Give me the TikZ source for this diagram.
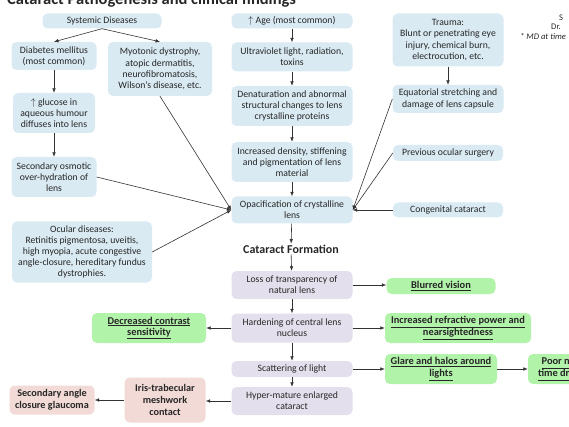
\documentclass[tikz,border=0pt]{standalone}
\usepackage{fontspec}
\setmainfont{Carlito}
\usepackage{xcolor}
\usetikzlibrary{arrows.meta}
\definecolor{boxblue}{RGB}{217,234,243}
\definecolor{boxpurple}{RGB}{228,223,236}
\definecolor{boxgreen}{RGB}{178,243,170}
\definecolor{boxpink}{RGB}{242,219,215}
\newcommand{\ulbf}[1]{\textbf{\underline{#1}}}

\begin{document}
\begin{tikzpicture}[x=1pt, y=-1pt, font=\fontsize{9.7}{11.2}\selectfont, text=black!85,
    blubox/.style={fill=boxblue, rounded corners=5pt, align=center, inner sep=1pt},
    purbox/.style={fill=boxpurple, rounded corners=5pt, align=center, inner sep=1pt},
    grnbox/.style={fill=boxgreen, rounded corners=5pt, align=center, inner sep=1pt, font=\fontsize{10.4}{11.6}\selectfont},
    pnkbox/.style={fill=boxpink, rounded corners=5pt, align=center, inner sep=1pt, font=\fontsize{10.2}{12}\selectfont\bfseries},
    arr/.style={-{Latex[length=4.5pt,width=3.6pt]}, semithick, black!80}]
    \clip (0,0) rectangle (569,427);

    % title and credits, cut by the frame
    \node[anchor=base west, font=\fontsize{16.5}{18}\selectfont\bfseries, inner sep=0pt] (title) at (7,4.5) {Cataract Pathogenesis and clinical findings};
    \node[anchor=base west, font=\fontsize{8.6}{9}\selectfont, inner sep=0pt] (credS) at (559,21) {S};
    \node[anchor=base west, font=\fontsize{8.6}{9}\selectfont, inner sep=0pt] (credDr) at (551,30) {Dr.};
    \node[anchor=base west, font=\fontsize{8.6}{9}\selectfont\itshape, inner sep=0pt] (credMD) at (520,40) {* MD at time};

    % left: systemic and ocular causes
    \node[blubox, minimum width=119, minimum height=15] (sysdis) at (102,21) {Systemic Diseases};
    \node[blubox, minimum width=85, minimum height=28] (diab) at (54,56) {Diabetes mellitus\\(most common)};
    \node[blubox, minimum width=104, minimum height=54] (myot) at (160,69) {Myotonic dystrophy,\\atopic dermatitis,\\neurofibromatosis,\\Wilson’s disease, etc.};
    \node[blubox, minimum width=82, minimum height=40] (gluc) at (54,113) {$\uparrow$ glucose in\\aqueous humour\\diffuses into lens};
    \node[blubox, minimum width=85, minimum height=40] (osmo) at (54,177) {Secondary osmotic\\over-hydration of\\lens};
    \node[blubox, minimum width=140, minimum height=61] (ocul) at (82,252) {Ocular diseases:\\Retinitis pigmentosa, uveitis,\\high myopia, acute congestive\\angle-closure, hereditary fundus\\dystrophies.};

    % centre column
    \node[blubox, minimum width=121, minimum height=15] (age) at (292,21) {$\uparrow$ Age (most common)};
    \node[blubox, minimum width=121, minimum height=29] (uv) at (292,57) {Ultraviolet light, radiation,\\toxins};
    \node[blubox, minimum width=121, minimum height=40] (denat) at (292,106) {Denaturation and abnormal\\structural changes to lens\\crystalline proteins};
    \node[blubox, minimum width=121, minimum height=40] (dens) at (292,162) {Increased density, stiffening\\and pigmentation of lens\\material};
    \node[blubox, minimum width=121, minimum height=27] (opac) at (292,210) {Opacification of crystalline\\lens};
    \node[font=\fontsize{12}{14}\selectfont\bfseries, inner sep=1pt] (catf) at (291,249) {Cataract Formation};
    \node[purbox, minimum width=121, minimum height=28] (loss) at (292,285) {Loss of transparency of\\natural lens};
    \node[purbox, minimum width=121, minimum height=29] (hard) at (292,328) {Hardening of central lens\\nucleus};
    \node[purbox, minimum width=121, minimum height=16] (scat) at (292,369) {Scattering of light};
    \node[purbox, minimum width=121, minimum height=28] (hyper) at (292,401) {Hyper-mature enlarged\\cataract};

    % right: trauma and other causes
    \node[blubox, minimum width=111, minimum height=53] (trauma) at (448,40) {Trauma:\\Blunt or penetrating eye\\injury, chemical burn,\\electrocution, etc.};
    \node[blubox, minimum width=111, minimum height=28] (equat) at (448,99) {Equatorial stretching and\\damage of lens capsule};
    \node[blubox, minimum width=110, minimum height=16] (prevsurg) at (448,153) {Previous ocular surgery};
    \node[blubox, minimum width=110, minimum height=15] (congen) at (448,210) {Congenital cataract};

    % clinical findings
    \node[grnbox, minimum width=109, minimum height=16] (blur) at (441,286) {\ulbf{Blurred vision}};
    \node[grnbox, minimum width=146, minimum height=30] (refr) at (458,328) {\ulbf{Increased refractive power and}\\\ulbf{nearsightedness}};
    \node[grnbox, minimum width=112, minimum height=30] (glare) at (441,369) {\ulbf{Glare and halos around}\\\ulbf{lights}};
    \node[grnbox, minimum width=72, minimum height=30] (night) at (564,369) {\ulbf{Poor night}\\\ulbf{time driving}};
    \node[grnbox, minimum width=114, minimum height=30] (contr) at (149,328) {\ulbf{Decreased contrast}\\\ulbf{sensitivity}};
    \node[pnkbox, minimum width=81, minimum height=45] (iris) at (165,400) {Iris-trabecular\\meshwork\\contact};
    \node[pnkbox, minimum width=85, minimum height=29] (glauc) at (52,400) {Secondary angle\\closure glaucoma};

    % connectors
    \draw[arr] (sysdis.south) -- (diab.north);
    \draw[arr] (sysdis.south) -- (myot.north);
    \draw[arr] (diab) -- (gluc);
    \draw[arr] (gluc) -- (osmo);
    \draw[arr] (osmo.east) -- (opac.west);
    \draw[arr] (myot.south) -- (opac.west);
    \draw[arr] (ocul.east) -- (opac.west);

    \draw[arr] (age) -- (uv);
    \draw[arr] (uv) -- (denat);
    \draw[arr] (denat) -- (dens);
    \draw[arr] (dens) -- (opac);
    \draw[arr] (opac) -- (catf);
    \draw[arr] (catf) -- (loss);
    \draw[arr] (loss) -- (hard);
    \draw[arr] (hard) -- (scat);
    \draw[arr] (scat) -- (hyper);

    \draw[arr] (trauma) -- (equat);
    \draw[arr] (equat.west) -- (opac.east);
    \draw[arr] (prevsurg.west) -- (opac.east);
    \draw[arr] (congen.west) -- (opac.east);

    \draw[arr] (loss.east) -- (blur.west |- loss.east);
    \draw[arr] (hard.east) -- (refr.west);
    \draw[arr] (hard.west) -- (contr.east);
    \draw[arr] (scat.east) -- (glare.west);
    \draw[arr] (glare) -- (night);
    \draw[arr] (hyper.west) -- (iris.east |- hyper.west);
    \draw[arr] (iris) -- (glauc);
\end{tikzpicture}
\end{document}
